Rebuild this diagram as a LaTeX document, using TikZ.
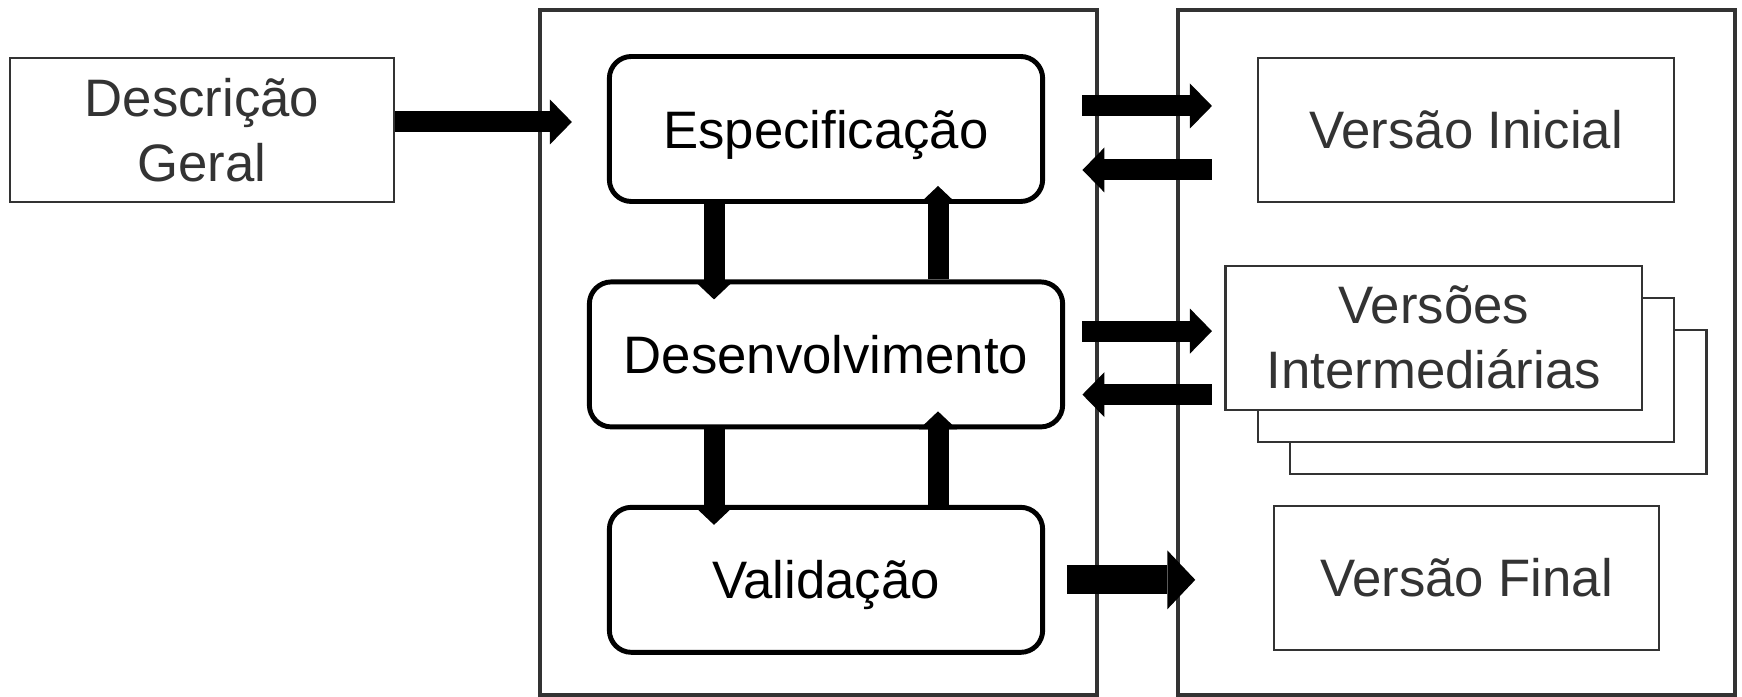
\documentclass[tikz,border=0pt]{standalone}
\usepackage{fontspec}
\setmainfont{Liberation Sans}
\usetikzlibrary{arrows.meta,positioning,shadows}

\definecolor{txtgray}{HTML}{333333}

\tikzset{
  stage/.style={draw=black, line width=1.4pt, rounded corners=0.22cm,
    minimum width=4.333cm, minimum height=1.45cm, inner sep=0pt, text depth=0pt,
    font=\fontsize{15}{18.5}\selectfont},
  doc/.style={draw=txtgray, line width=0.6pt, fill=white, text=txtgray,
    minimum height=1.443cm, inner sep=0pt, align=center,
    font=\fontsize{15}{18.5}\selectfont},
  panel/.style={draw=txtgray, line width=1.3pt},
  flow/.style={line width=0.21cm, -{Triangle[length=0.22cm,width=0.45cm,line width=0pt]}},
  vflow/.style={line width=0.21cm, -{Triangle[length=0.18cm,width=0.38cm,line width=0pt]}},
  bigflow/.style={line width=0.29cm, -{Triangle[length=0.28cm,width=0.59cm,line width=0pt]}},
}

\begin{document}
\begin{tikzpicture}

  \useasboundingbox (0,0) rectangle (17.42,-6.97);

  % the two frames
  \draw[panel] (5.40,-0.10) rectangle (10.97,-6.95);
  \draw[panel] (11.78,-0.10) rectangle (17.35,-6.95);

  \node (desc) [doc, minimum width=3.844cm] at (2.02,-1.30) {Descrição\\Geral};

  \node (espec) [stage] at (8.26,-1.29) {Especificação};
  \node (desenv) [stage, below=0.755cm of espec, minimum width=4.733cm] {Desenvolvimento};
  \node (valid) [stage, below=0.755cm of desenv] {Validação};

  \node (vinic) [doc, minimum width=4.166cm] at (14.66,-1.30) {Versão Inicial};
  \node (vint) [doc, minimum width=4.166cm,
    double copy shadow={shadow xshift=0.322cm, shadow yshift=-0.322cm}]
    at (14.338,-3.378) {Versões\\Intermediárias};
  \node (vfin) [doc, minimum width=3.85cm] at (14.665,-5.78) {Versão Final};

  \draw[flow, shorten >=0.35cm] ([yshift=0.08cm]desc.east) -- ([yshift=0.08cm]desc.east -| espec.west);

  \draw[vflow] ([xshift=-1.12cm]espec.south) -- ([xshift=-1.12cm,yshift=-0.2cm]desenv.north);
  \draw[vflow] ([xshift=1.12cm]desenv.north) -- ([xshift=1.12cm,yshift=0.18cm]espec.south);
  \draw[vflow] ([xshift=-1.12cm]desenv.south) -- ([xshift=-1.12cm,yshift=-0.2cm]valid.north);
  \draw[vflow] ([xshift=1.12cm]valid.north) -- ([xshift=1.12cm,yshift=0.18cm]desenv.south);

  \draw[flow, shorten <=0.373cm, shorten >=0.447cm] ([yshift=0.23cm]espec.east) -- ([yshift=0.23cm]espec.east -| vinic.west);
  \draw[flow, shorten <=0.447cm, shorten >=0.373cm] ([yshift=-0.41cm]espec.east -| vinic.west) -- ([yshift=-0.41cm]espec.east);
  \draw[flow, shorten <=0.173cm, shorten >=0.125cm] ([yshift=0.233cm]desenv.east) -- ([yshift=0.233cm]desenv.east -| vint.west);
  \draw[flow, shorten <=0.125cm, shorten >=0.173cm] ([yshift=-0.402cm]desenv.east -| vint.west) -- ([yshift=-0.402cm]desenv.east);

  \draw[bigflow, shorten <=0.217cm, shorten >=0.777cm] (valid.east) -- (valid.east -| vfin.west);

\end{tikzpicture}
\end{document}
